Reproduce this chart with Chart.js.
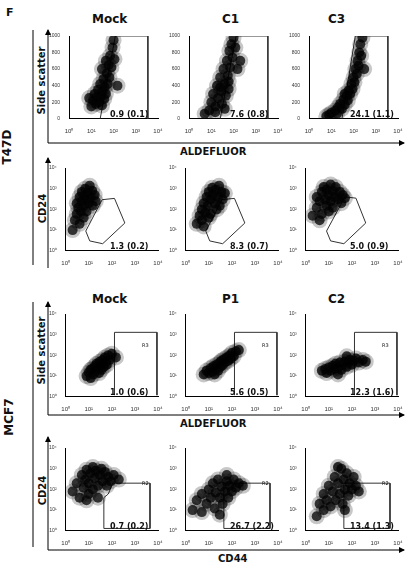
<!DOCTYPE html>
<html><head><meta charset="utf-8">
<script src="https://cdn.jsdelivr.net/npm/chart.js@4/dist/chart.umd.min.js"></script>
<style>
body{margin:0;background:#fff;font-family:Verdana,"DejaVu Sans",sans-serif;}
#wrap{position:relative;width:416px;height:570px;}
.c{position:absolute;}
.t{position:absolute;font-weight:bold;color:#111;white-space:nowrap;}
svg{position:absolute;left:0;top:0;}
</style></head><body>
<div id="wrap">
<svg width="416" height="570">
<defs><marker id="a" markerWidth="6" markerHeight="6" refX="5" refY="3" orient="auto"><path d="M0,0 L6,3 L0,6 z" fill="#000"/></marker></defs>
<line x1="33" y1="30" x2="33" y2="265" stroke="#000"/>
<line x1="33" y1="302" x2="33" y2="547" stroke="#000"/>
<line x1="48" y1="143" x2="48" y2="30" stroke="#000" marker-end="url(#a)"/>
<line x1="48" y1="143" x2="404" y2="143" stroke="#000" marker-end="url(#a)"/>
<line x1="48" y1="268" x2="48" y2="158" stroke="#000" marker-end="url(#a)"/>
<line x1="48" y1="415" x2="48" y2="302" stroke="#000" marker-end="url(#a)"/>
<line x1="48" y1="415" x2="404" y2="415" stroke="#000" marker-end="url(#a)"/>
<line x1="48" y1="550" x2="48" y2="437" stroke="#000" marker-end="url(#a)"/>
<line x1="48" y1="550" x2="404" y2="550" stroke="#000" marker-end="url(#a)"/>
</svg>
<div class="t" style="left:92px;top:12px;font-size:12px">Mock</div>
<div class="t" style="left:6px;top:6px;font-size:11px">F</div>
<div class="t" style="left:222px;top:12px;font-size:12px">C1</div>
<div class="t" style="left:328px;top:12px;font-size:12px">C3</div>
<div class="t" style="left:92px;top:292px;font-size:12px">Mock</div>
<div class="t" style="left:222px;top:292px;font-size:12px">P1</div>
<div class="t" style="left:328px;top:292px;font-size:12px">C2</div>
<div class="t" style="left:180px;top:146px;font-size:10px">ALDEFLUOR</div>
<div class="t" style="left:180px;top:418px;font-size:10px">ALDEFLUOR</div>
<div class="t" style="left:218px;top:553px;font-size:10px">CD44</div>
<div class="t" style="left:-10px;top:140px;font-size:12px;transform:rotate(-90deg)">T47D</div>
<div class="t" style="left:-10px;top:410px;font-size:12px;transform:rotate(-90deg)">MCF7</div>
<div class="t" style="left:8px;top:75px;font-size:10px;transform:rotate(-90deg)">Side scatter</div>
<div class="t" style="left:8px;top:345px;font-size:10px;transform:rotate(-90deg)">Side scatter</div>
<div class="t" style="left:28px;top:203px;font-size:10px;transform:rotate(-90deg)">CD24</div>
<div class="t" style="left:28px;top:485px;font-size:10px;transform:rotate(-90deg)">CD24</div>
</div>
<script>
// gate percentages
const pctLabels = [
  ['0.9 (0.1)', '7.6 (0.8)', '24.1 (1.1)'],
  ['1.3 (0.2)', '8.3 (0.7)', '5.0 (0.9)'],
  ['1.0 (0.6)', '5.6 (0.5)', '12.3 (1.6)'],
  ['0.7 (0.2)', '26.7 (2.2)', '13.4 (1.3)']
];
const logTicks = [1, 10, 100, 1000, 10000];
const linTicks = [0, 200, 400, 600, 800, 1000];

// cell clouds (x, y)
const t47dAldMock = [[10,150],[12,220],[14,300],[16,180],[18,260],[20,350],[22,200],[25,420],[28,280],[30,160],[32,330],[35,480],[38,240],[40,380],[45,300],[50,550],[55,420],[60,650],[65,500],[70,760],[80,620],[90,860],[100,950],[110,720],[150,400],[8,250],[30,600],[45,700]];
const t47dAldC1 = [[5,60],[8,100],[10,200],[12,300],[15,150],[18,400],[20,250],[25,500],[28,330],[30,180],[35,600],[40,420],[45,280],[50,700],[55,520],[60,360],[65,820],[70,620],[80,900],[90,740],[100,980],[120,860],[150,600],[200,700],[15,80],[40,120],[25,380],[60,450]];
const t47dAldC3 = [[6,30],[8,50],[10,70],[15,100],[18,60],[20,140],[25,180],[30,120],[35,230],[40,170],[50,280],[55,220],[60,340],[70,300],[80,420],[90,360],[100,500],[110,440],[120,600],[140,540],[150,700],[170,640],[180,800],[200,900],[220,760],[250,980],[300,600],[40,300]];
const t47dCdMock = [[2,10],[2.5,30],[3,60],[3,200],[3.5,120],[4,400],[4.5,80],[5,250],[5,700],[6,150],[6.5,450],[7,1000],[8,300],[8,80],[9,600],[10,200],[11,1400],[12,400],[14,800],[15,150],[18,500],[20,250],[6,40],[4,20]];
const t47dCdC1 = [[3,20],[4,50],[5,100],[5,30],[6,200],[7,70],[8,400],[9,150],[10,700],[12,300],[12,60],[14,1100],[15,500],[18,200],[20,900],[25,400],[28,1400],[30,150],[35,700],[40,300],[50,600],[6,15],[10,40],[22,100]];
const t47dCdC3 = [[2,50],[3,120],[3,400],[4,250],[5,700],[5,60],[6,1200],[7,300],[8,150],[8,900],[10,500],[12,1600],[12,250],[15,800],[18,400],[20,1200],[25,300],[30,700],[35,200],[40,500],[4,30],[10,80],[15,120],[50,350]];
const mcfAldMock = [[8,10],[10,15],[12,8],[14,22],[16,12],[18,30],[20,18],[22,40],[25,25],[28,14],[30,50],[32,32],[35,20],[40,60],[42,40],[45,28],[50,80],[55,50],[60,35],[70,100],[80,60],[100,120],[150,80],[12,20]];
const mcfAldP1 = [[6,12],[8,18],[10,14],[12,24],[14,16],[16,30],[20,22],[22,36],[25,18],[30,45],[32,28],[35,55],[40,34],[45,65],[50,45],[60,80],[70,55],[80,100],[90,70],[100,130],[120,90],[150,160],[200,180],[18,12]];
const mcfAldC2 = [[5,18],[7,22],[8,14],[10,26],[12,18],[15,32],[18,22],[20,40],[25,25],[30,45],[35,20],[40,35],[50,50],[60,28],[70,45],[80,60],[100,35],[120,55],[150,70],[200,45],[300,60],[400,50],[25,12],[60,90]];
const mcfCdMock = [[2,80],[3,200],[4,40],[5,500],[6,120],[7,300],[8,900],[10,60],[10,200],[12,600],[15,1200],[15,100],[18,350],[20,800],[25,150],[30,500],[35,1000],[40,250],[50,700],[60,150],[70,400],[90,250],[120,500],[200,300],[8,30],[25,40]];
const mcfCdP1 = [[2,10],[3,30],[5,8],[5,60],[8,20],[10,100],[12,40],[15,200],[18,12],[20,70],[25,300],[30,40],[35,140],[40,20],[50,80],[60,250],[70,40],[80,150],[100,80],[120,300],[150,120],[200,200],[300,150],[30,6],[60,500]];
const mcfCdC2 = [[3,5],[4,20],[6,10],[6,60],[8,30],[10,150],[12,15],[15,80],[18,400],[20,30],[25,200],[30,60],[35,1000],[40,20],[45,300],[50,100],[60,600],[70,50],[80,200],[100,100],[120,400],[150,150],[200,80],[50,10],[25,1200]];

// gates
const gateAldMock = [[25,0],[120,1000],[3500,1000],[3500,0]];
const gateAldC1 = [[25,0],[130,1000],[3500,1000],[3500,0]];
const gateAldC3 = [[30,0],[120,1000],[3500,1000],[3500,0]];
const gateHexMock = [[38,295],[130,340],[365,22],[40,2.2],[11,3],[7.4,9],[38,295]];
const gateHexC1 = [[38,300],[130,340],[365,22],[40,2.2],[11,3],[7.4,9],[38,300]];
const gateHexC3 = [[50,400],[150,350],[400,22],[45,2.2],[12,3],[8,9],[50,400]];
const gateR3 = [[130,1.2],[130,1300],[9000,1300],[9000,1.2]];
const gateR2Mock = [[45,1.3],[45,40],[70,60],[110,200],[4500,200],[4500,1.3],[45,1.3]];
const gateR2 = [[45,1.3],[45,200],[4500,200],[4500,1.3],[45,1.3]];

const panels = [
  {cloud:t47dAldMock, gate:gateAldMock, lin:true, col:0, row:0},
  {cloud:t47dAldC1, gate:gateAldC1, lin:true, col:1, row:0},
  {cloud:t47dAldC3, gate:gateAldC3, lin:true, col:2, row:0},
  {cloud:t47dCdMock, gate:gateHexMock, col:0, row:1},
  {cloud:t47dCdC1, gate:gateHexC1, col:1, row:1},
  {cloud:t47dCdC3, gate:gateHexC3, col:2, row:1},
  {cloud:mcfAldMock, gate:gateR3, col:0, row:2, r:'R3'},
  {cloud:mcfAldP1, gate:gateR3, col:1, row:2, r:'R3'},
  {cloud:mcfAldC2, gate:gateR3, col:2, row:2, r:'R3'},
  {cloud:mcfCdMock, gate:gateR2Mock, col:0, row:3, r:'R2'},
  {cloud:mcfCdP1, gate:gateR2, col:1, row:3, r:'R2'},
  {cloud:mcfCdC2, gate:gateR2, col:2, row:3, r:'R2'}
];

const colLeft = [48, 168, 288];
const rowTop = [28, 160, 306, 440];
const sup = ['⁰','¹','²','³','⁴'];
const wrap = document.getElementById('wrap');

function xy(arr) { return arr.map(p => ({x: p[0], y: p[1]})); }

panels.forEach(p => {
  const box = document.createElement('div');
  box.className = 'c';
  box.style.left = colLeft[p.col] + 'px';
  box.style.top = rowTop[p.row] + 'px';
  box.style.width = '118px';
  box.style.height = '108px';
  const cv = document.createElement('canvas');
  box.appendChild(cv);
  wrap.appendChild(box);

  const logAxis = {
    type: 'logarithmic', min: 1, max: 10000,
    grid: {display: false}, border: {color: '#000'},
    afterBuildTicks: ax => { ax.ticks = logTicks.map(v => ({value: v})); },
    ticks: {font: {size: 6}, color: '#333', padding: 1, maxRotation: 0,
      callback: v => '10' + sup[Math.round(Math.log10(v))]}
  };
  const yAxis = p.lin ? {
    type: 'linear', min: 0, max: 1000,
    grid: {display: false}, border: {color: '#000'},
    afterBuildTicks: ax => { ax.ticks = linTicks.map(v => ({value: v})); },
    ticks: {font: {size: 5}, color: '#333', padding: 1, callback: v => String(v)}
  } : Object.assign({}, logAxis, {ticks: Object.assign({}, logAxis.ticks, {font: {size: 5}})});

  new Chart(cv, {
    type: 'scatter',
    data: {datasets: [
      {data: xy(p.cloud), pointRadius: 8, pointBackgroundColor: 'rgba(0,0,0,0.22)', pointBorderWidth: 0},
      {data: xy(p.cloud), pointRadius: 5, pointBackgroundColor: 'rgba(0,0,0,0.75)', pointBorderWidth: 0},
      {data: xy(p.gate), showLine: true, pointRadius: 0, borderColor: '#333', borderWidth: 1, fill: false}
    ]},
    options: {
      responsive: true, maintainAspectRatio: false, animation: false,
      layout: {padding: {top: 4, right: 4}},
      plugins: {legend: {display: false}, tooltip: {enabled: false}},
      scales: {x: logAxis, y: yAxis}
    }
  });

  const lab = document.createElement('div');
  lab.className = 't';
  lab.style.fontSize = '8px';
  lab.style.left = (colLeft[p.col] + 62) + 'px';
  lab.style.top = (rowTop[p.row] + 82) + 'px';
  lab.textContent = pctLabels[p.row][p.col];
  wrap.appendChild(lab);
  if (p.r) {
    const rl = document.createElement('div');
    rl.className = 't';
    rl.style.fontSize = '5px';
    rl.style.fontWeight = 'normal';
    rl.style.left = (colLeft[p.col] + 94) + 'px';
    rl.style.top = (rowTop[p.row] + (p.r === 'R3' ? 36 : 40)) + 'px';
    rl.textContent = p.r;
    wrap.appendChild(rl);
  }
});
</script>
</body></html>
